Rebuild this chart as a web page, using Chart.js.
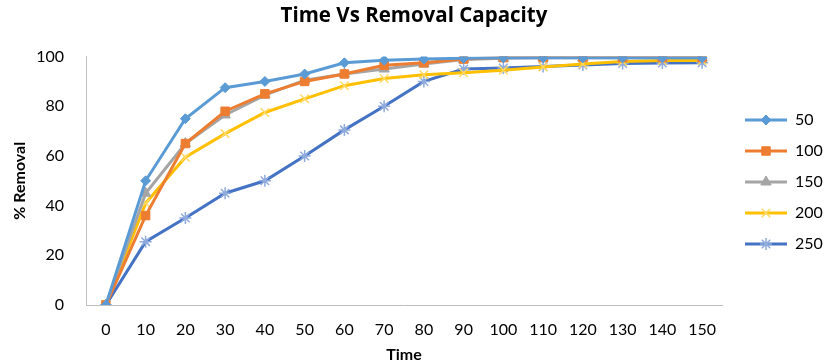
<!DOCTYPE html>
<html>
<head>
<meta charset="utf-8">
<script src="https://cdn.jsdelivr.net/npm/chart.js@4/dist/chart.umd.min.js"></script>
<style>
  html, body { margin: 0; padding: 0; background: #fff; }
  #wrap { width: 828px; height: 364px; }
</style>
</head>
<body>
<div id="wrap"><canvas id="chart"></canvas></div>
<script>
// Data
const timeLabels = ["0", "10", "20", "30", "40", "50", "60", "70", "80", "90", "100", "110", "120", "130", "140", "150"];
const seriesNames = ["50", "100", "150", "200", "250"];
const removal50  = [0, 50, 75, 87.5, 90, 93, 97.5, 98.5, 99, 99.3, 99.5, 99.5, 99.5, 99.5, 99.5, 99.5];
const removal100 = [0, 36, 65, 78, 85, 90, 93, 96.5, 97.5, 99, 99.6, 99.6, 99.6, 99.6, 99.6, 99.6];
const removal150 = [0, 45, 65, 76.5, 84.5, 90.5, 93, 95, 97, 98.8, 99.3, 99.5, 99.5, 99.5, 99.5, 99.5];
const removal200 = [0, 41, 59.5, 69, 77.5, 83, 88.3, 91.2, 92.7, 93.5, 94.5, 95.8, 97, 98, 98.4, 98.4];
const removal250 = [0, 25.5, 35, 45, 50, 60, 70.5, 80, 90, 95, 95.4, 96, 96.6, 97.2, 97.4, 97.5];
const yTicks = [0, 20, 40, 60, 80, 100];

const colors = ["#5B9BD5", "#ED7D31", "#A5A5A5", "#FFC000", "#4472C4"];
const markerEdge = ["#5B9BD5", "#ED7D31", "#A5A5A5", "#FFD966", "#8FAADC"];
const styles = ["rectRot", "rect", "triangle", "crossRot", "star"];
const radii = [5, 6, 6, 6, 6];
const allValues = [removal50, removal100, removal150, removal200, removal250];

const FONT = "Lato, 'Open Sans', sans-serif";

// legend symbol: line with marker in the middle
function legendSymbol(i) {
  const c = document.createElement("canvas");
  c.width = 50; c.height = 16;
  const g = c.getContext("2d");
  g.strokeStyle = colors[i];
  g.lineWidth = 3;
  g.beginPath(); g.moveTo(8, 8); g.lineTo(50, 8); g.stroke();
  g.fillStyle = colors[i];
  g.strokeStyle = markerEdge[i];
  g.lineWidth = styles[i] === "crossRot" || styles[i] === "star" ? 1.5 : 1;
  Chart.helpers.drawPoint(g, { pointStyle: styles[i], radius: radii[i], rotation: 0, borderWidth: g.lineWidth }, 29, 8);
  return c;
}

const datasets = seriesNames.map((name, i) => ({
  label: name,
  data: allValues[i],
  borderColor: colors[i],
  backgroundColor: colors[i],
  borderWidth: 3,
  pointStyle: styles[i],
  pointRadius: radii[i],
  pointBorderColor: markerEdge[i],
  pointBackgroundColor: colors[i],
  pointBorderWidth: styles[i] === "crossRot" || styles[i] === "star" ? 1.5 : 1,
  tension: 0
}));

const legendWidthFix = {
  id: "legendWidthFix",
  afterInit(chart) {
    const lg = chart.legend;
    const orig = lg.fit.bind(lg);
    lg.fit = function () { orig(); this.width = 106; };
  }
};

new Chart(document.getElementById("chart"), {
  type: "line",
  data: { labels: timeLabels, datasets },
  plugins: [legendWidthFix],
  options: {
    responsive: true,
    maintainAspectRatio: false,
    animation: false,
    layout: { padding: { left: 0, right: 0, top: 0, bottom: 0 } },
    plugins: {
      title: {
        display: true,
        text: "Time Vs Removal Capacity",
        color: "#000",
        font: { family: "'Open Sans', sans-serif", size: 20.5, weight: "bold" },
        padding: { top: 4, bottom: 28 }
      },
      legend: {
        position: "right",
        labels: {
          usePointStyle: true,
          pointStyleWidth: 50,
          padding: 15,
          color: "#000",
          font: { family: FONT, size: 16 },
          generateLabels(chart) {
            return seriesNames.map((name, i) => ({
              text: name,
              pointStyle: legendSymbol(i),
              fillStyle: colors[i],
              strokeStyle: colors[i],
              lineWidth: 0,
              hidden: false,
              datasetIndex: i
            }));
          }
        }
      },
      tooltip: { enabled: false }
    },
    scales: {
      x: {
        offset: true,
        grid: { display: false, drawTicks: false },
        border: { display: true, color: "#BFBFBF", width: 1 },
        ticks: { color: "#000", padding: 15, maxRotation: 0, autoSkip: false, font: { family: FONT, size: 16 } },
        title: { display: true, text: "Time", color: "#000", padding: { top: 0, bottom: 0 }, font: { family: FONT, size: 16, weight: "bold" } },
        afterFit(scale) { scale.height = 59; }
      },
      y: {
        min: 0,
        max: 100,
        grid: { display: false, drawTicks: false },
        border: { display: true, color: "#BFBFBF", width: 1 },
        afterBuildTicks(scale) { scale.ticks = yTicks.map(v => ({ value: v })); },
        ticks: { color: "#000", padding: 22, font: { family: FONT, size: 16 } },
        title: { display: true, text: "% Removal", color: "#000", padding: { top: 10, bottom: 0 }, font: { family: FONT, size: 16, weight: "bold" } },
        afterFit(scale) { scale.width = 86; }
      }
    }
  }
});
</script>
</body>
</html>
